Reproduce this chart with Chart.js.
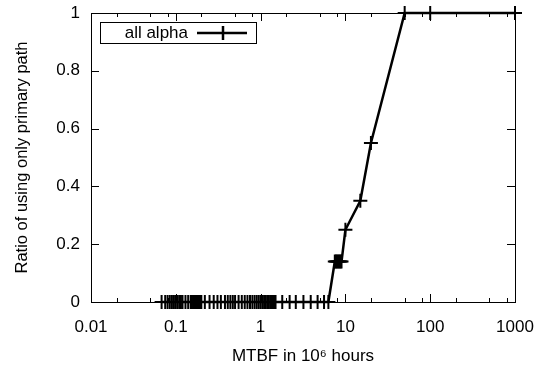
<!DOCTYPE html>
<html><head><meta charset="utf-8">
<script src="https://cdn.jsdelivr.net/npm/chart.js@4"></script>
<style>html,body{margin:0;padding:0;background:#fff}#c{display:block}</style>
</head><body>
<div style="width:544px;height:374px"><canvas id="c" width="544" height="374"></canvas></div>
<script>
const mtbf = [0.068,0.075,0.08,0.085,0.09,0.095,0.1,0.105,0.11,0.115,0.12,0.13,0.14,0.15,0.155,0.16,0.165,0.17,0.175,0.18,0.185,0.19,0.195,0.2,
  0.22,0.25,0.28,0.31,0.34,0.38,0.41,0.44,0.47,0.5,0.55,0.6,0.65,0.7,0.75,0.8,0.85,0.9,0.95,1.0,
  1.05,1.1,1.15,1.2,1.25,1.3,1.35,1.4,1.45,1.5,
  1.8,2.2,2.6,3.2,3.9,4.7,5.6,6.3,
  7.5,7.75,8,8.25,8.5,8.75,9,10,15,20,50,100,1000];
const ratio = [0,0,0,0,0,0,0,0,0,0,0,0,0,0,0,0,0,0,0,0,0,0,0,0,
  0,0,0,0,0,0,0,0,0,0,0,0,0,0,0,0,0,0,0,0,
  0,0,0,0,0,0,0,0,0,0,
  0,0,0,0,0,0,0,0,
  0.14,0.14,0.14,0.14,0.14,0.14,0.14,0.25,0.35,0.55,1,1,1];
const xTickValues = [0.01,0.1,1,10,100,1000];
const xMinorMultipliers = [2,5,8];
const yTickValues = [0,0.2,0.4,0.6,0.8,1];
const seriesLabel = 'all alpha';
const xTitle = 'MTBF in 10\u2076 hours';
const yTitle = 'Ratio of using only primary path';

const FONT = 'Liberation Sans, Arial, sans-serif';

const framePlugin = {
  id: 'frame',
  afterDatasetsDraw(chart) {
    const {ctx, chartArea: a, scales: {x, y}} = chart;
    ctx.save();
    ctx.strokeStyle = '#000';
    ctx.lineWidth = 1;
    ctx.strokeRect(a.left + 0.5, a.top + 0.5, a.right - a.left, a.bottom - a.top);
    ctx.beginPath();
    xTickValues.forEach((v, i) => {
      const px = Math.round(x.getPixelForValue(v)) + 0.5;
      ctx.moveTo(px, a.bottom); ctx.lineTo(px, a.bottom - 8);
      ctx.moveTo(px, a.top); ctx.lineTo(px, a.top + 8);
      if (i < xTickValues.length - 1) {
        xMinorMultipliers.forEach(m => {
          const mx = Math.round(x.getPixelForValue(v * m)) + 0.5;
          ctx.moveTo(mx, a.bottom); ctx.lineTo(mx, a.bottom - 4);
          ctx.moveTo(mx, a.top); ctx.lineTo(mx, a.top + 4);
        });
      }
    });
    yTickValues.forEach(v => {
      const py = Math.round(y.getPixelForValue(v)) + 0.5;
      ctx.moveTo(a.left, py); ctx.lineTo(a.left + 8, py);
      ctx.moveTo(a.right, py); ctx.lineTo(a.right - 8, py);
    });
    ctx.stroke();
    // legend
    const bx = 100, by = 22, bw = 156, bh = 21;
    const cy = by + bh / 2 + 0.5;
    ctx.fillStyle = '#fff';
    ctx.fillRect(bx, by, bw, bh);
    ctx.strokeRect(bx + 0.5, by + 0.5, bw, bh);
    ctx.fillStyle = '#000';
    ctx.font = '17px ' + FONT;
    ctx.textAlign = 'right';
    ctx.textBaseline = 'middle';
    ctx.fillText(seriesLabel, 188, cy);
    ctx.lineWidth = 2.5;
    ctx.beginPath();
    ctx.moveTo(197, cy); ctx.lineTo(247, cy);
    ctx.moveTo(223, cy - 7); ctx.lineTo(223, cy + 7);
    ctx.stroke();
    ctx.restore();
  }
};

new Chart(document.getElementById('c'), {
  type: 'line',
  data: {
    datasets: [{
      label: seriesLabel,
      data: mtbf.map((v, i) => ({x: v, y: ratio[i]})),
      borderColor: '#000',
      backgroundColor: '#000',
      borderWidth: 2.5,
      pointStyle: 'cross',
      pointRadius: 7,
      pointBorderWidth: 2,
      pointHoverRadius: 7,
      tension: 0,
      clip: false
    }]
  },
  options: {
    responsive: false,
    animation: false,
    events: [],
    layout: {padding: {top: 13, right: 29, left: 0, bottom: 0}},
    plugins: {legend: {display: false}, tooltip: {enabled: false}},
    scales: {
      x: {
        type: 'logarithmic',
        min: 0.01, max: 1000,
        afterBuildTicks(s) { s.ticks = xTickValues.map(v => ({value: v})); },
        afterFit(s) { s.height = 72; s.paddingLeft = 0; s.paddingRight = 0; },
        grid: {display: false, drawTicks: false},
        border: {display: false},
        ticks: {
          color: '#000', padding: 15, maxRotation: 0, autoSkip: false,
          font: {family: FONT, size: 17},
          callback: v => String(v)
        },
        title: {display: true, text: xTitle, color: '#000', font: {family: FONT, size: 17}, padding: {top: 0, bottom: 7}}
      },
      y: {
        type: 'linear',
        min: 0, max: 1,
        afterBuildTicks(s) { s.ticks = yTickValues.map(v => ({value: v})); },
        afterFit(s) { s.width = 91; s.paddingTop = 0; s.paddingBottom = 0; },
        grid: {display: false, drawTicks: false},
        border: {display: false},
        ticks: {
          color: '#000', padding: 11,
          font: {family: FONT, size: 17},
          callback: v => String(v)
        },
        title: {display: true, text: yTitle, color: '#000', font: {family: FONT, size: 16.5}, padding: {top: 13, bottom: 0}}
      }
    }
  },
  plugins: [framePlugin]
});
</script>
</body></html>
